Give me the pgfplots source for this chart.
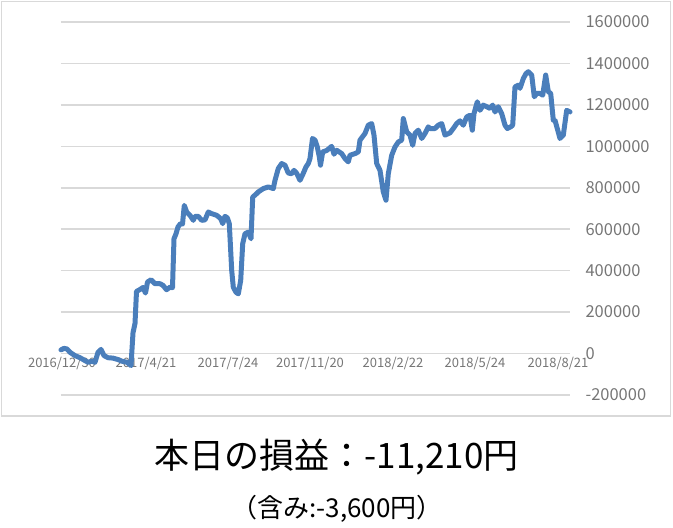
\documentclass[border=0pt]{standalone}
\usepackage{pgfplots}
\pgfplotsset{compat=1.18}
\usepackage{fontspec}
\setmainfont{Noto Sans CJK JP}
\definecolor{linecol}{RGB}{74,126,187}
\definecolor{gridcol}{RGB}{217,217,217}
\definecolor{tickcol}{RGB}{118,118,118}
\definecolor{framecol}{RGB}{217,217,217}
\begin{document}
\begin{tikzpicture}[x=1pt,y=1pt]
\path[use as bounding box] (0,0) rectangle (673,528);
\draw[framecol, line width=1.2pt] (1.5,112) rectangle (670.5,526.5);
\begin{axis}[
  at={(61pt,133pt)}, anchor=south west,
  scale only axis, width=509pt, height=373pt,
  xmin=61, xmax=570, ymin=-200000, ymax=1600000,
  axis x line*=middle, axis y line*=right,
  axis line style={draw=none},
  major tick length=0pt,
  scaled y ticks=false, scaled x ticks=false,
  /pgf/number format/assume math mode=true,
  xtick={62,146,228,310,393,475,558},
  xticklabels={\mbox{\sffamily\rmfamily 2016/12/30},\mbox{2017/4/21},\mbox{2017/7/24},\mbox{2017/11/20},\mbox{2018/2/22},\mbox{2018/5/24},\mbox{2018/8/21}},
  xticklabel style={font=\fontsize{13}{15}\selectfont, text=tickcol, anchor=north, yshift=0pt},
  ytick={-200000,0,200000,400000,600000,800000,1000000,1200000,1400000,1600000},
  yticklabels={\mbox{-200000},\mbox{0},\mbox{200000},\mbox{400000},\mbox{600000},\mbox{800000},\mbox{1000000},\mbox{1200000},\mbox{1400000},\mbox{1600000}},
  yticklabel style={font=\fontsize{16.5}{18}\selectfont, text=tickcol, anchor=west, xshift=12pt},
  ymajorgrids, grid style={gridcol, line width=1.5pt},
  clip=false,
]
\addplot[linecol, line width=5pt, line join=round, line cap=round] coordinates {
(61,18000) (64,25000) (67,22000) (70,6000) (75,-10000) (80,-20000) (85,-34000) (88,-42000)
(92,-37000) (95,-42000) (98,6000) (101,20000) (104,-10000) (108,-20000) (113,-22000)
(118,-29000) (122,-37000) (127,-42000) (131,-58000) (133,100000) (135,145000) (136.5,300000)
(140,309000) (143,319000) (145.5,292000) (147.5,345000) (151,356000) (155,337000) (160,337000)
(163,329000) (166.5,308000) (170,320000) (172.5,318000) (174,554000) (176,578000) (178,611000)
(180.5,627000) (182.5,625000) (184.3,715000) (186.7,683000) (190,667000) (193.3,643000)
(195,662000) (198.3,662000) (201.7,643000) (205,645000) (208.3,683000) (211.7,675000)
(216.7,667000) (220.7,651000) (222.7,627000) (225,662000) (227.3,655000) (229.3,627000)
(231.7,401000) (233.3,320000) (236,296000) (238.3,288000) (240.7,353000) (242.7,530000)
(245,578000) (248.3,586000) (251,554000) (252.7,755000) (256.7,772000) (258.3,780000)
(263.3,796000) (268.3,804000) (273.3,796000) (275,836000) (278.3,893000) (281.7,917000)
(285,909000) (288.3,871000) (291.7,868000) (294,884000) (296.7,870000) (300,836000)
(303.3,870000) (306,901000) (308.3,917000) (310,941000) (312.5,1038000) (315,1030000)
(317.3,997000) (319.3,950000) (320.5,909000) (322.7,973000) (326.7,980000) (331.7,1000000)
(334,962000) (336.7,981000) (341.7,965000) (345,941000) (348.3,925000) (350,957000)
(355,965000) (358.3,973000) (360,1030000) (365,1062000) (368.3,1102000) (371.7,1110000)
(374,1054000) (376.7,917000) (380,884000) (383.3,780000) (386,740000) (388.3,868000)
(391.7,957000) (395,997000) (398.3,1021000) (401.7,1030000) (403.3,1134000) (406.7,1070000)
(410,1054000) (412.7,1005000) (415,1062000) (418.3,1078000) (421.7,1038000) (425,1062000)
(428.3,1094000) (430,1086000) (435,1086000) (438.3,1102000) (441.7,1110000) (445,1054000)
(450,1065000) (453.3,1086000) (456.7,1110000) (460,1123000) (463.3,1102000) (466.7,1142000)
(470,1150000) (472.3,1078000) (474,1158000) (477.3,1215000) (480,1174000) (483.3,1199000)
(486.7,1191000) (490,1183000) (492.7,1199000) (495,1166000) (498.3,1191000) (501.7,1158000)
(505,1102000) (507.3,1086000) (510.7,1094000) (512.7,1102000) (515,1287000) (518.3,1295000)
(520,1280000) (523.3,1327000) (526,1351000) (528.3,1360000) (531.7,1344000) (534.3,1239000)
(536.7,1255000) (540,1255000) (542.7,1247000) (545.7,1344000) (548.3,1264000) (550.7,1255000)
(553.3,1126000) (555,1126000) (560,1038000) (563.3,1054000) (566.7,1174000) (570,1166000)
};
\end{axis}
\node[font=\fontsize{35}{38}\selectfont] at (336.5,71) {本日の損益：-11,210円};
\node[font=\fontsize{26}{28}\selectfont] at (337,19) {（含み:-3,600円）};
\end{tikzpicture}
\end{document}
